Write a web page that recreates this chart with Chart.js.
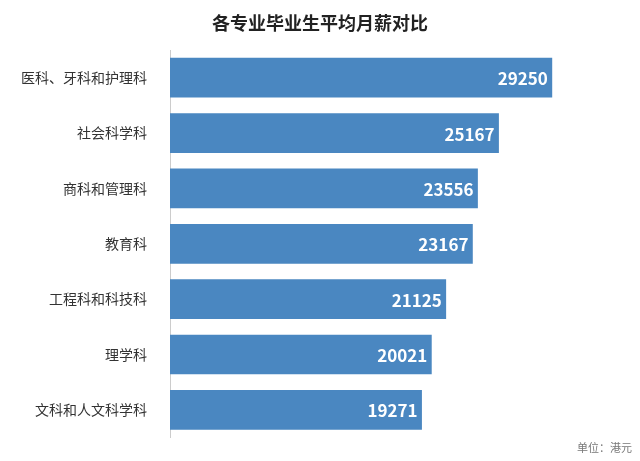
<!DOCTYPE html>
<html>
<head>
<meta charset="utf-8">
<script src="https://cdn.jsdelivr.net/npm/chart.js@4"></script>
<style>
  html, body { margin: 0; padding: 0; background: #fff; }
  #wrap { width: 640px; height: 461px; }
</style>
</head>
<body>
<div id="wrap"><canvas id="salaryChart"></canvas></div>
<script>
const majors = ['医科、牙科和护理科', '社会科学科', '商科和管理科', '教育科', '工程科和科技科', '理学科', '文科和人文科学科'];
const salaries = [29250, 25167, 23556, 23167, 21125, 20021, 19271];
const chartTitle = '各专业毕业生平均月薪对比';
const unitNote = '单位：港元';

const FONT = '"Noto Sans CJK SC", "Noto Sans", sans-serif';

// title, bar values and unit note
const overlayPlugin = {
  id: 'overlay',
  afterDatasetsDraw(chart) {
    const ctx = chart.ctx;
    ctx.save();
    ctx.fillStyle = '#222';
    ctx.font = 'bold 18px ' + FONT;
    ctx.textAlign = 'center';
    ctx.textBaseline = 'middle';
    ctx.fillText(chartTitle, 320, 23);

    const meta = chart.getDatasetMeta(0);
    ctx.fillStyle = '#fff';
    ctx.font = 'bold 17px ' + FONT;
    ctx.textAlign = 'right';
    meta.data.forEach((bar, i) => {
      ctx.fillText(salaries[i], bar.x - 4, bar.y + 1);
    });

    ctx.fillStyle = '#777';
    ctx.font = '11px ' + FONT;
    ctx.textAlign = 'right';
    ctx.fillText(unitNote, 632, 448);
    ctx.restore();
  }
};

new Chart(document.getElementById('salaryChart'), {
  type: 'bar',
  data: {
    labels: majors,
    datasets: [{
      data: salaries,
      backgroundColor: '#4a87c1',
      barThickness: 39
    }]
  },
  options: {
    indexAxis: 'y',
    responsive: true,
    maintainAspectRatio: false,
    animation: false,
    layout: { padding: { top: 50, bottom: 0, left: 0, right: 0 } },
    plugins: {
      legend: { display: false },
      tooltip: { enabled: false }
    },
    scales: {
      x: { display: false, min: 0, max: 36000 },
      y: {
        grid: { display: false },
        border: { display: true, color: '#ccc' },
        ticks: { color: '#333', font: { size: 14, family: FONT }, padding: 15 },
        afterFit(scale) { scale.width = 170; }
      }
    }
  },
  plugins: [overlayPlugin]
});
</script>
</body>
</html>
